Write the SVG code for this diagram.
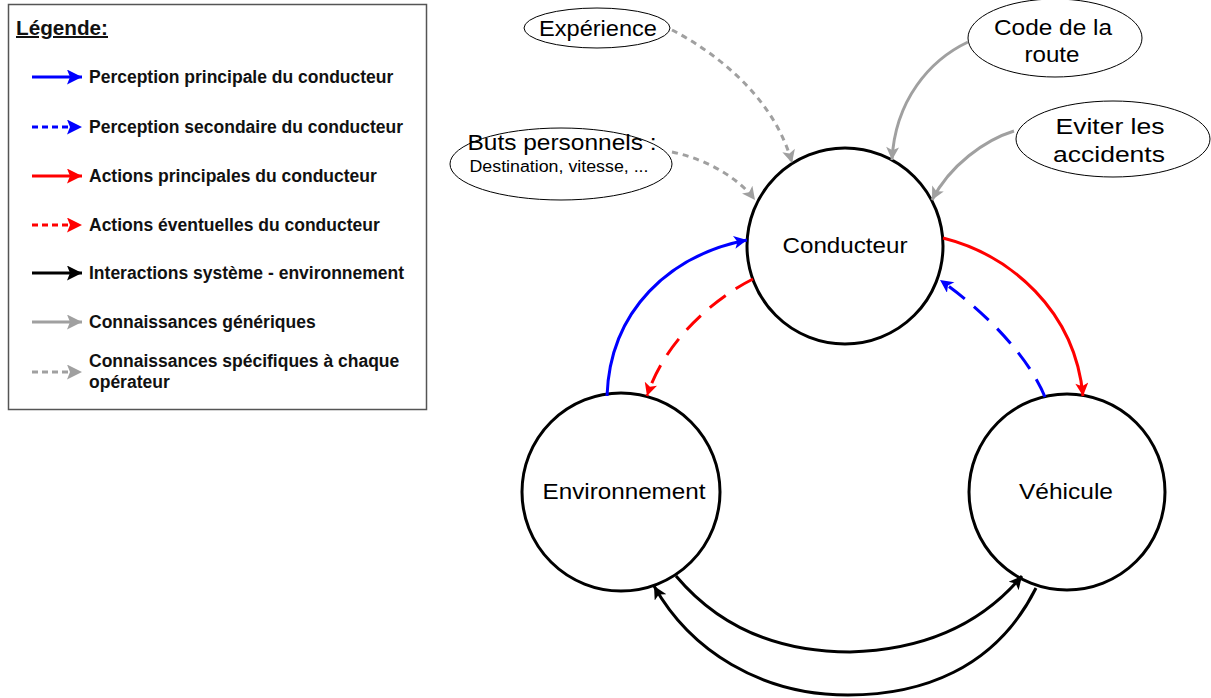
<svg xmlns="http://www.w3.org/2000/svg" width="1211" height="698" viewBox="0 0 1211 698">
  <style>
    .lg { font-family: "Liberation Sans", Arial, sans-serif; font-size: 17.5px; font-weight: bold; fill: #111; }
    .big { font-family: "Liberation Sans", Arial, sans-serif; font-size: 22px; fill: #000; text-anchor: middle; }
    .small { font-family: "Liberation Sans", Arial, sans-serif; font-size: 16px; fill: #000; text-anchor: middle; }
    .node { fill: #fff; stroke: #000; stroke-width: 3; }
    .bubble { fill: #fff; stroke: #000; stroke-width: 1; }
    .c { fill: none; stroke-width: 3; }
    .blue { stroke: #0000ff; }
    .red { stroke: #ff0000; }
    .black { stroke: #000; }
    .grey { stroke: #a0a0a0; }
    .dash { stroke-dasharray: 20 12; }
    .dot { stroke-dasharray: 6 5; }
    .ldash { stroke-dasharray: 6 4; }
  </style>
  <defs>
    <marker id="ah-blue" viewBox="0 0 10 10" refX="10" refY="5" markerWidth="15" markerHeight="13" markerUnits="userSpaceOnUse" orient="auto">
      <path d="M0,0 L10,5 L0,10 L2.5,5 z" fill="#0000ff"/>
    </marker>
    <marker id="ah-red" viewBox="0 0 10 10" refX="10" refY="5" markerWidth="15" markerHeight="13" markerUnits="userSpaceOnUse" orient="auto">
      <path d="M0,0 L10,5 L0,10 L2.5,5 z" fill="#ff0000"/>
    </marker>
    <marker id="ah-black" viewBox="0 0 10 10" refX="10" refY="5" markerWidth="15" markerHeight="13" markerUnits="userSpaceOnUse" orient="auto">
      <path d="M0,0 L10,5 L0,10 L2.5,5 z" fill="#000"/>
    </marker>
    <marker id="ah-grey" viewBox="0 0 10 10" refX="10" refY="5" markerWidth="15" markerHeight="13" markerUnits="userSpaceOnUse" orient="auto">
      <path d="M0,0 L10,5 L0,10 L2.5,5 z" fill="#a0a0a0"/>
    </marker>
    <!-- larger heads for the legend samples -->
    <marker id="lh-blue" viewBox="0 0 10 10" refX="10" refY="5" markerWidth="15" markerHeight="15" markerUnits="userSpaceOnUse" orient="auto">
      <path d="M0,0 L10,5 L0,10 L2,5 z" fill="#0000ff"/>
    </marker>
    <marker id="lh-red" viewBox="0 0 10 10" refX="10" refY="5" markerWidth="15" markerHeight="15" markerUnits="userSpaceOnUse" orient="auto">
      <path d="M0,0 L10,5 L0,10 L2,5 z" fill="#ff0000"/>
    </marker>
    <marker id="lh-black" viewBox="0 0 10 10" refX="10" refY="5" markerWidth="15" markerHeight="15" markerUnits="userSpaceOnUse" orient="auto">
      <path d="M0,0 L10,5 L0,10 L2,5 z" fill="#000"/>
    </marker>
    <marker id="lh-grey" viewBox="0 0 10 10" refX="10" refY="5" markerWidth="15" markerHeight="15" markerUnits="userSpaceOnUse" orient="auto">
      <path d="M0,0 L10,5 L0,10 L2,5 z" fill="#a0a0a0"/>
    </marker>
  </defs>

  <rect width="1211" height="698" fill="#fff"/>

  <!-- Legend -->
  <g id="legend">
    <rect x="8.5" y="4.5" width="418" height="405" fill="#fff" stroke="#555" stroke-width="1.5"/>
    <text x="16" y="35" class="lg" style="font-size:20px" text-decoration="underline" textLength="92" lengthAdjust="spacingAndGlyphs">Légende:</text>
    <line x1="32" y1="77" x2="82" y2="77" class="c blue" stroke-width="4" marker-end="url(#lh-blue)"/>
    <text x="89" y="83" class="lg">Perception principale du conducteur</text>
    <line x1="32" y1="127" x2="82" y2="127" class="c blue ldash" stroke-width="4" marker-end="url(#lh-blue)"/>
    <text x="89" y="133" class="lg">Perception secondaire du conducteur</text>
    <line x1="32" y1="176" x2="82" y2="176" class="c red" stroke-width="4" marker-end="url(#lh-red)"/>
    <text x="89" y="182" class="lg">Actions principales du conducteur</text>
    <line x1="32" y1="225" x2="82" y2="225" class="c red ldash" stroke-width="4" marker-end="url(#lh-red)"/>
    <text x="89" y="231" class="lg">Actions éventuelles du conducteur</text>
    <line x1="32" y1="273" x2="82" y2="273" class="c black" stroke-width="4" marker-end="url(#lh-black)"/>
    <text x="89" y="279" class="lg">Interactions système - environnement</text>
    <line x1="32" y1="322" x2="82" y2="322" class="c grey" stroke-width="4" marker-end="url(#lh-grey)"/>
    <text x="89" y="328" class="lg">Connaissances génériques</text>
    <line x1="32" y1="372" x2="82" y2="372" class="c grey ldash" stroke-width="4" marker-end="url(#lh-grey)"/>
    <text x="89" y="367" class="lg">Connaissances spécifiques à chaque</text>
    <text x="89" y="388" class="lg">opérateur</text>
  </g>

  <!-- Main nodes -->
  <g id="conducteur">
    <circle cx="845" cy="246" r="98" class="node"/>
    <text x="845" y="253" class="big" textLength="125" lengthAdjust="spacingAndGlyphs">Conducteur</text>
  </g>
  <g id="environnement">
    <circle cx="621" cy="492" r="99" class="node"/>
    <text x="624" y="499" class="big" textLength="163" lengthAdjust="spacingAndGlyphs">Environnement</text>
  </g>
  <g id="vehicule">
    <circle cx="1067" cy="492" r="98" class="node"/>
    <text x="1066" y="499" class="big" textLength="94" lengthAdjust="spacingAndGlyphs">Véhicule</text>
  </g>

  <!-- Knowledge bubbles -->
  <g id="experience">
    <ellipse cx="597" cy="28" rx="73" ry="20" class="bubble"/>
    <text x="598" y="36" class="big" textLength="118" lengthAdjust="spacingAndGlyphs">Expérience</text>
  </g>
  <g id="buts">
    <ellipse cx="561" cy="164" rx="111" ry="36" class="bubble"/>
    <text x="562" y="150" class="big" textLength="189" lengthAdjust="spacingAndGlyphs">Buts personnels :</text>
    <text x="559" y="172" class="small" textLength="179" lengthAdjust="spacingAndGlyphs">Destination, vitesse, ...</text>
  </g>
  <g id="code">
    <ellipse cx="1055" cy="38" rx="87" ry="39" class="bubble"/>
    <text x="1053" y="35" class="big" textLength="118" lengthAdjust="spacingAndGlyphs">Code de la</text>
    <text x="1052" y="62" class="big" textLength="55" lengthAdjust="spacingAndGlyphs">route</text>
  </g>
  <g id="eviter">
    <ellipse cx="1113" cy="139" rx="97" ry="38" class="bubble"/>
    <text x="1110" y="134" class="big" textLength="109" lengthAdjust="spacingAndGlyphs">Eviter les</text>
    <text x="1109" y="162" class="big" textLength="112" lengthAdjust="spacingAndGlyphs">accidents</text>
  </g>

  <!-- Connectors -->
  <g id="connectors">
    <path d="M607,396 C610,310 670,255 747,240" class="c blue" marker-end="url(#ah-blue)"/>
    <path d="M753,279 C715,298 665,340 647,396" class="c red dash" marker-end="url(#ah-red)"/>
    <path d="M943,238 C1010,255 1075,310 1083,396" class="c red" marker-end="url(#ah-red)"/>
    <path d="M1045,397 C1030,360 990,315 940,280" class="c blue dash" marker-end="url(#ah-blue)"/>
    <path d="M676,576 C730,640 800,652 850,652 C930,650 985,620 1022,576" class="c black" marker-end="url(#ah-black)"/>
    <path d="M1036,588 C995,670 920,695 848,695 C760,695 690,650 654,586" class="c black" marker-end="url(#ah-black)"/>
    <path d="M968,42 C930,60 895,100 892,160" class="c grey" marker-end="url(#ah-grey)"/>
    <path d="M1014,131 C985,140 950,165 932,200" class="c grey" marker-end="url(#ah-grey)"/>
    <path d="M672,30 C720,55 775,100 792,163" class="c grey dot" marker-end="url(#ah-grey)"/>
    <path d="M672,152 C710,160 740,180 755,200" class="c grey dot" marker-end="url(#ah-grey)"/>
  </g>
</svg>
